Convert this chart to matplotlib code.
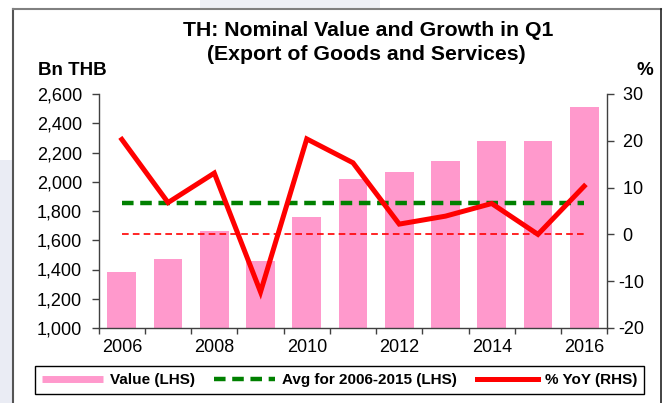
import numpy as np
import matplotlib
matplotlib.use("Agg")
import matplotlib.pyplot as plt
from matplotlib.lines import Line2D
from matplotlib.patches import Rectangle
from matplotlib.ticker import FuncFormatter

plt.rcParams['font.family'] = ['Liberation Sans', 'DejaVu Sans']

# data
years = [2006, 2007, 2008, 2009, 2010, 2011, 2012, 2013, 2014, 2015, 2016]
value_bn = [1383, 1472, 1664, 1459, 1757, 2021, 2065, 2142, 2281, 2279, 2513]
yoy_pct = [20.3, 6.8, 13.1, -12.3, 20.4, 15.3, 2.2, 3.9, 6.6, 0.0, 10.3]
avg_2006_2015 = np.mean(value_bn[:10])

lhs_ticks = list(range(1000, 2601, 200))
rhs_ticks = list(range(-20, 31, 10))
year_labels = ['2006', '2008', '2010', '2012', '2014', '2016']

W, H = 668, 403
pink = '#ff99cc'
green = '#008000'
red = '#ff0000'
axis_col = '#404040'

fig = plt.figure(figsize=(W / 100, H / 100), dpi=100)
fig.patch.set_facecolor('white')

# faint background pieces outside the frame
fig.add_artist(Rectangle((0, 0), 13 / W, 1 - 160 / H, transform=fig.transFigure,
                         color='#eaecf4', lw=0, zorder=0))
fig.add_artist(Rectangle((200 / W, 1 - 8 / H), 180 / W, 8 / H, transform=fig.transFigure,
                         color='#eef0f6', lw=0, zorder=0))

# chart frame (bottom edge is cut off in the reference)
fx0, fx1, fy1 = 13 / W, 661 / W, 1 - 9 / H
fig.add_artist(Line2D([fx0, fx0], [0, fy1], transform=fig.transFigure, color='#555555', lw=1.5))
fig.add_artist(Line2D([fx0, fx1], [fy1, fy1], transform=fig.transFigure, color='#808080', lw=1.5))
fig.add_artist(Line2D([fx1, fx1], [0, fy1], transform=fig.transFigure, color='#222222', lw=1.2))

ax = fig.add_axes([98.7 / W, 1 - 328 / H, (607.3 - 98.7) / W, (328 - 94) / H])
ax2 = ax.twinx()
ax.set_zorder(1)
ax2.set_zorder(2)
ax.patch.set_visible(False)
ax2.patch.set_visible(False)

x = np.arange(len(years))
ax.bar(x, value_bn, width=0.62, color=pink, zorder=2)
ax2.plot(x, [0] * len(x), color=red, lw=1.2, dashes=(4, 2.5), zorder=3)
ax2.plot(x, [avg_2006_2015] * len(x), color=green, lw=3.2, dashes=(2.6, 1.5), zorder=4,
         transform=ax.transData)
ax2.plot(x, yoy_pct, color=red, lw=3.6, solid_joinstyle='miter', zorder=5)

ax.set_xlim(-0.5, len(years) - 0.5)
ax.set_ylim(1000, 2600)
ax2.set_ylim(-20, 30)

for s in ['top', 'right']:
    ax.spines[s].set_visible(False)
for s in ['top', 'left', 'bottom']:
    ax2.spines[s].set_visible(False)
for a in (ax, ax2):
    for s in a.spines.values():
        s.set_color(axis_col)
        s.set_linewidth(1.0)

ax.set_yticks(lhs_ticks)
ax.yaxis.set_major_formatter(FuncFormatter(lambda v, p: f"{v:,.0f}"))
ax.tick_params(axis='y', direction='out', length=5, width=1, color=axis_col, pad=7,
               labelsize=13)

ax.set_xticks([years.index(int(y)) for y in year_labels])
ax.set_xticklabels(year_labels)
ax.set_xticks(np.arange(-0.5, len(years), 1), minor=True)
ax.tick_params(axis='x', which='major', length=0, pad=8, labelsize=13)
ax.tick_params(axis='x', which='minor', direction='out', length=4, width=1, color=axis_col)

ax2.set_yticks(rhs_ticks)
ax2.yaxis.set_major_formatter(FuncFormatter(lambda v, p: f"-{abs(v):.0f}" if v < 0 else f" {v:.0f}"))
ax2.tick_params(axis='y', direction='out', length=5, width=1, color=axis_col, pad=3,
                labelsize=13)

fig.text(368 / W, 1 - 36.5 / H, 'TH: Nominal Value and Growth in Q1', ha='center',
         va='baseline', fontsize=15.3, fontweight='bold')
fig.text(366 / W, 1 - 60 / H, '(Export of Goods and Services)', ha='center',
         va='baseline', fontsize=15.3, fontweight='bold')
fig.text(38 / W, 1 - 75 / H, 'Bn THB', ha='left', va='baseline', fontsize=13.5, fontweight='bold')
fig.text(653 / W, 1 - 75 / H, '%', ha='right', va='baseline', fontsize=13.5, fontweight='bold')

handles = [Line2D([], [], color=pink, lw=5, solid_capstyle='butt'),
           Line2D([], [], color=green, lw=3.2, dashes=(2.6, 1.5)),
           Line2D([], [], color=red, lw=3.6)]
labels = ['Value (LHS)', 'Avg for 2006-2015 (LHS)', '% YoY (RHS)']
leg = fig.legend(handles, labels, loc='center', bbox_to_anchor=((32 + 647) / 2 / W, 1 - 380 / H),
                 ncol=3, frameon=True, fancybox=False, edgecolor='black', framealpha=1,
                 prop={'weight': 'bold', 'size': 11}, handlelength=4.0, handletextpad=0.45,
                 columnspacing=1.3, borderpad=0.45)
leg.get_frame().set_linewidth(1.0)

fig.savefig('out.png', dpi=100)
